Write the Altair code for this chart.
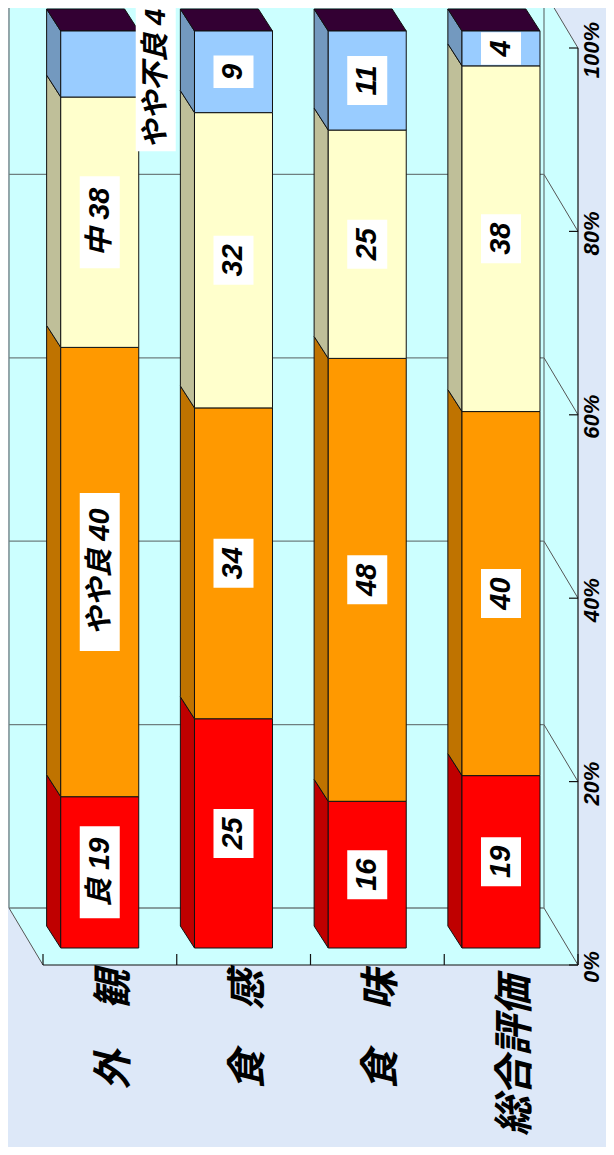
import altair as alt
import pandas as pd

categories = ["外　観", "食　感", "食　味", "総合評価"]
levels = ["良", "やや良", "中", "やや不良"]
v_good = [16.5, 25, 16, 18.8]
v_fair = [49.0, 33.9, 48.3, 39.7]
v_mid = [27.3, 32.2, 24.9, 37.7]
v_poor = [7.2, 8.9, 10.8, 3.8]
labels_good = ["良 19", "25", "16", "19"]
labels_fair = ["やや良 40", "34", "48", "40"]
labels_mid = ["中 38", "32", "25", "38"]
labels_poor = ["やや不良 4", "9", "11", "4"]
ticks = [0, 20, 40, 60, 80, 100]

front_colors = ["#FF0000", "#FF9900", "#FFFFCC", "#99CCFF"]
side_colors = ["#BF0000", "#BF7300", "#BFBF99", "#7399BF"]
top_color = "#330033"
wall = "#CCFFFF"
page = "#DDE8F8"
FONT = "Liberation Sans, Noto Sans CJK JP, sans-serif"

W, H = 598, 1139
PX_U, PX_P = 133.75, 9.17
X0, Y0 = 43.0, 965.0  # where category 0 / 0 % fall in the window


def proj(u, p, d=0.0):
    """Category slot, percent, depth into the chart -> scale values."""
    return u - 34 / PX_U * d, p + 57 / PX_P * d


xs = alt.Scale(domain=[(8 - X0) / PX_U, (8 + W - X0) / PX_U], nice=False, zero=False)
ys = alt.Scale(domain=[(Y0 - 8 - H) / PX_P, (Y0 - 8) / PX_P], nice=False, zero=False)
X = alt.X("x:Q", scale=xs, axis=None)
Y = alt.Y("y:Q", scale=ys, axis=None)

D_FRONT, D_BACK = 0.298, 0.684
HW = 39 / PX_U


def area_v(rows, **kw):
    return alt.Chart(pd.DataFrame(rows)).mark_area(orient="vertical", **kw).encode(
        x=X, y=Y, y2="y2:Q", color=alt.Color("c:N", scale=None), detail="id:N")


def area_h(rows, **kw):
    return alt.Chart(pd.DataFrame(rows)).mark_area(orient="horizontal", **kw).encode(
        y=Y, x=X, x2="x2:Q", color=alt.Color("c:N", scale=None), detail="id:N")


def rules(rows, color, width):
    return alt.Chart(pd.DataFrame(rows)).mark_rule(color=color, strokeWidth=width).encode(
        x=X, y=Y, x2="x2:Q", y2="y2:Q")


def seg(a, b):
    return {"x": a[0], "y": a[1], "x2": b[0], "y2": b[1]}


# chart walls
bl = proj(0, 0, 1)
br = proj(4, 0, 1)
tl = proj(0, 100, 1)
tr = proj(4, 100, 1)
fl = proj(0, 0, 0)
fr = proj(4, 0, 0)
ftr = proj(4, 100, 0)
walls = [
    area_v([{"id": "back", "c": wall, "x": bl[0], "y": tl[1], "y2": bl[1]},
            {"id": "back", "c": wall, "x": br[0], "y": tr[1], "y2": br[1]}]),
    area_v([{"id": "right", "c": wall, "x": br[0], "y": tr[1], "y2": br[1]},
            {"id": "right", "c": wall, "x": fr[0], "y": ftr[1], "y2": fr[1]}]),
    area_h([{"id": "floor", "c": wall, "y": bl[1], "x": bl[0], "x2": br[0]},
            {"id": "floor", "c": wall, "y": fl[1], "x": fl[0], "x2": fr[0]}]),
]

grid_rows = [seg(proj(0, t, 1), proj(4, t, 1)) for t in ticks]
grid_rows += [seg(bl, tl), seg(br, tr)]
diag_rows = [seg(proj(4, t, 1), proj(4, t, 0)) for t in ticks] + [seg(bl, fl)]
axis_rows = [seg(fl, fr), seg(fr, ftr)]
axis_rows += [seg(proj(i, 0), proj(i, 11 / PX_P)) for i in range(5)]
axis_rows += [seg(proj(4, t), proj(4 - 9 / PX_U, t)) for t in ticks]

series = [v_good, v_fair, v_mid, v_poor]
texts = [labels_good, labels_fair, labels_mid, labels_poor]

sides, tops, fronts, boxes, value_text = [], [], [], [], []


def text_len(s):
    n = 16
    for ch in s:
        n += 16.5 if ch.isdigit() else (10 if ch == " " else 33)
    return n


for i, cat in enumerate(categories):
    total = sum(s[i] for s in series)
    c = i + 0.5
    base = 0.0
    for k, s in enumerate(series):
        lo = base
        hi = base + s[i] / total * 100
        base = hi
        fx0, _ = proj(c - HW, 0, D_FRONT)
        fx1, _ = proj(c + HW, 0, D_FRONT)
        _, flo = proj(c, lo, D_FRONT)
        _, fhi = proj(c, hi, D_FRONT)
        fronts.append({"x": fx0, "x2": fx1, "y": flo, "y2": fhi, "c": front_colors[k]})
        bx0, blo = proj(c - HW, lo, D_BACK)
        _, bhi = proj(c, hi, D_BACK)
        sid = f"s{i}{k}"
        sides.append({"id": sid, "c": side_colors[k], "x": bx0 - 1 / PX_U, "y": bhi, "y2": blo})
        sides.append({"id": sid, "c": side_colors[k], "x": fx0, "y": fhi, "y2": flo})
        mid = (flo + fhi) / 2
        tx = (fx0 + fx1) / 2
        text_mid = mid
        if i == 0 and k == 3:
            tx += 56 / PX_U  # this label was pulled out beside its bar
            text_mid = mid - 15 / PX_P  # keep the whole label on the page
        half = text_len(texts[k][i]) / 2 / PX_P
        boxes.append({"x": tx - 20 / PX_U, "x2": tx + 20 / PX_U, "y": mid - half, "y2": mid + half})
        value_text.append({"x": tx, "y": text_mid, "t": texts[k][i]})
    bx0, by = proj(c - HW, 100, D_BACK)
    bx1, _ = proj(c + HW, 100, D_BACK)
    fx0, fy = proj(c - HW, 100, D_FRONT)
    fx1, _ = proj(c + HW, 100, D_FRONT)
    tops.append({"id": f"t{i}", "c": top_color, "y": by, "x": bx0 - 1 / PX_U, "x2": bx1 - 1 / PX_U})
    tops.append({"id": f"t{i}", "c": top_color, "y": fy, "x": fx0, "x2": fx1})

edge = dict(stroke="#111111", strokeWidth=1)
side_layer = area_v(sides, **edge)
top_layer = area_h(tops, **edge)
front_layer = alt.Chart(pd.DataFrame(fronts)).mark_rect(**edge).encode(
    x=X, x2="x2:Q", y=Y, y2="y2:Q", color=alt.Color("c:N", scale=None))
box_layer = alt.Chart(pd.DataFrame(boxes)).mark_rect(color="white").encode(
    x=X, x2="x2:Q", y=Y, y2="y2:Q")
value_layer = alt.Chart(pd.DataFrame(value_text)).mark_text(
    angle=270, align="center", baseline="middle", font=FONT, fontSize=29,
    fontWeight="bold", fontStyle="italic", color="black").encode(x=X, y=Y, text="t:N")

tick_text = [{"x": 4 + 14 / PX_U, "y": t - 2 / PX_P, "t": f"{t}%"} for t in ticks]
tick_layer = alt.Chart(pd.DataFrame(tick_text)).mark_text(
    angle=270, align="center", baseline="middle", font=FONT, fontSize=22,
    fontWeight="bold", fontStyle="italic", color="black").encode(x=X, y=Y, text="t:N")

cat_text = [{"x": i + 0.5 + 5 / PX_U, "y": -(65 if len(name) == 3 else 91) / PX_P, "t": name}
            for i, name in enumerate(categories)]
cat_layer = alt.Chart(pd.DataFrame(cat_text)).mark_text(
    angle=270, align="center", baseline="middle", font=FONT, fontSize=40,
    fontWeight="bold", fontStyle="italic", color="black").encode(x=X, y=Y, text="t:N")

chart = alt.layer(
    *walls,
    rules(grid_rows, "#6E7F7F", 1.3),
    rules(diag_rows, "#555555", 1),
    side_layer, top_layer, front_layer, box_layer, value_layer,
    rules(axis_rows, "#111111", 1.2),
    tick_layer, cat_layer,
).properties(width=W, height=H, background=page, padding=0,
             autosize=alt.AutoSizeParams(type="none")).configure_view(stroke=None)

chart.save("out.html", embed_options={"renderer": "svg", "actions": False})
